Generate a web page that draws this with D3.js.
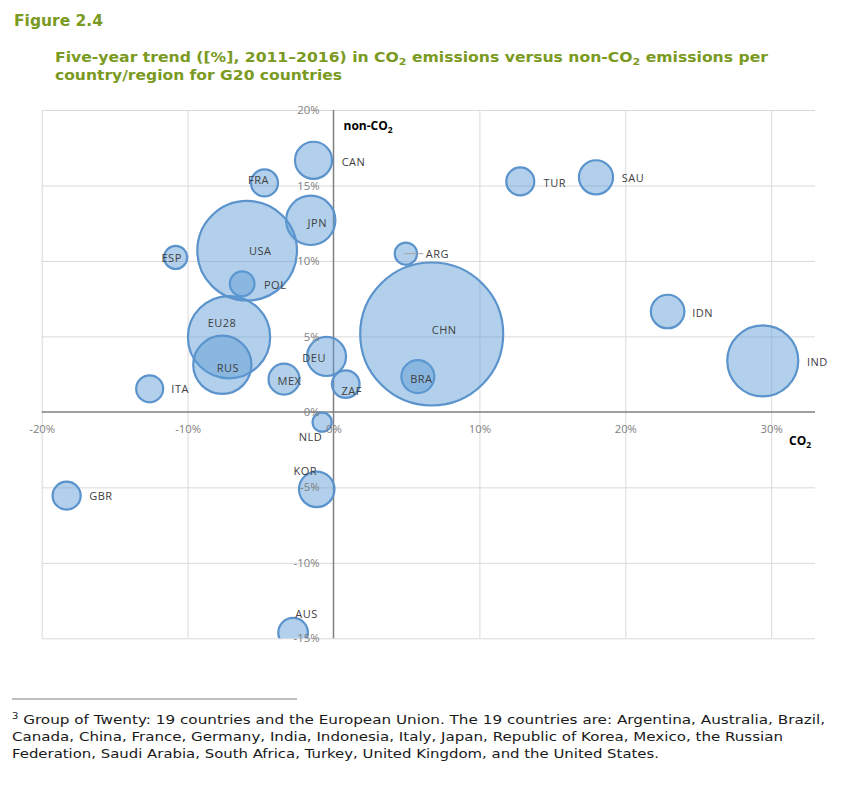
<!DOCTYPE html>
<html>
<head>
<meta charset="utf-8">
<script src="https://cdn.jsdelivr.net/npm/d3@7"></script>
<style>
  body { margin: 0; background: #ffffff; }
  svg { display: block; }
</style>
</head>
<body>
<script>
// ---------------- DATA ----------------
const countries = ["ARG","AUS","BRA","CAN","CHN","DEU","ESP","EU28","FRA","GBR","IDN","IND","ITA","JPN","KOR","MEX","NLD","POL","RUS","SAU","TUR","USA","ZAF"];
// five-year trend in CO2 emissions, %
const co2Trend    = [4.96, -2.77, 5.78, -1.37, 6.73, -0.48, -10.82, -7.16, -4.73, -18.29, 22.9, 29.42, -12.6, -1.56, -1.15, -3.39, -0.78, -6.26, -7.62, 17.99, 12.8, -5.92, 0.84];
// five-year trend in non-CO2 emissions, %
const nonCo2Trend = [10.48, -14.63, 2.34, 16.67, 5.16, 3.67, 10.23, 4.95, 15.17, -5.55, 6.65, 3.38, 1.53, 12.69, -5.13, 2.17, -0.68, 8.49, 3.12, 15.54, 15.27, 10.68, 1.84];
// bubble size (relative emission size)
const bubbleSize  = [304, 535, 663, 840, 12500, 932, 326, 4135, 446, 480, 687, 3082, 446, 1486, 770, 586, 224, 372, 2070, 712, 480, 6065, 466];

const xTicks = [-20, -10, 0, 10, 20, 30];
const yTicks = [-15, -10, -5, 0, 5, 10, 15, 20];
const xDomain = [-20, 33];
const yDomain = [-15, 20];

// label placement relative to bubble centre (layout only)
const labelOffset = {ARG:[31.5,0], AUS:[13.5,-19.4], BRA:[3.5,2.3], CAN:[40,1], CHN:[12.5,-4], DEU:[-12.4,1], ESP:[-4,0], EU28:[-7,-15], FRA:[-6,-3], GBR:[34.3,0], IDN:[35,1], IND:[54.6,0.7], ITA:[30.5,0], JPN:[6.5,2], KOR:[-11.5,-18.6], MEX:[5.5,1.4], NLD:[-11.7,14.4], POL:[33,1], RUS:[5.6,3], SAU:[37,0], TUR:[34.5,1], USA:[13,0], ZAF:[6,6]};
const leaderLines = ["ARG"];

const titleLines = [
  [["n","Five-year trend ([%], 2011\u20132016) in CO"],["sub","2"],["n"," emissions versus non-CO"],["sub","2"],["n"," emissions per"]],
  [["n","country/region for G20 countries"]]
];
const footLines = [
  [["sup","3"],["n"," Group of Twenty: 19 countries and the European Union. The 19 countries are: Argentina, Australia, Brazil,"]],
  [["n","Canada, China, France, Germany, India, Indonesia, Italy, Japan, Republic of Korea, Mexico, the Russian"]],
  [["n","Federation, Saudi Arabia, South Africa, Turkey, United Kingdom, and the United States."]]
];

// ---------------- LAYOUT ----------------
const W = 860, H = 786;
const plot = {left: 41.7, right: 815, top: 110, bottom: 638.3};
const green = "#7a9a22";

const svg = d3.select("body").append("svg").attr("width", W).attr("height", H)
  .style("font-family", "'Open Sans', sans-serif");

function richText(sel, segs, subSize) {
  let pending = 0;
  segs.forEach(([kind, t]) => {
    const ts = sel.append("tspan").text(t);
    if (kind === "sub") {
      ts.attr("dy", pending + 3).style("font-size", subSize); pending = -3;
    } else if (kind === "sup") {
      ts.attr("dy", pending - 5).style("font-size", subSize); pending = 5;
    } else {
      if (pending) ts.attr("dy", pending);
      pending = 0;
    }
  });
}

// Titles
svg.append("text").attr("x", 14).attr("y", 26)
  .style("font-family", "'DejaVu Sans', Verdana, sans-serif")
  .style("font-weight", "bold").style("font-size", "15.5px").attr("fill", green)
  .text("Figure 2.4");

const titleLen = [713, 287];
titleLines.forEach((segs, i) => {
  const t = svg.append("text").attr("x", 55).attr("y", 62 + i * 18)
    .attr("textLength", titleLen[i]).attr("lengthAdjust", "spacingAndGlyphs")
    .style("font-family", "'DejaVu Sans', Verdana, sans-serif")
    .style("font-weight", "bold").style("font-size", "13.5px").attr("fill", green);
  richText(t, segs, "9.5px");
});

// Scales
const x = d3.scaleLinear().domain(xDomain).range([plot.left, plot.right]);
const y = d3.scaleLinear().domain(yDomain).range([plot.bottom, plot.top]);
const r = d3.scaleSqrt().domain([0, d3.max(bubbleSize)]).range([0, 71.5]);

// Gridlines
const gridX = svg.append("g").attr("transform", `translate(0,${plot.bottom})`)
  .call(d3.axisBottom(x).tickValues(xTicks.filter(v => v !== 0)).tickSize(-(plot.bottom - plot.top)).tickFormat(""));
gridX.select(".domain").remove();
gridX.selectAll("line").attr("stroke", "#d9d9d9").attr("stroke-width", 1);

const gridY = svg.append("g").attr("transform", `translate(${plot.left},0)`)
  .call(d3.axisLeft(y).tickValues(yTicks.filter(v => v !== 0)).tickSize(-(plot.right - plot.left)).tickFormat(""));
gridY.select(".domain").remove();
gridY.selectAll("line").attr("stroke", "#d9d9d9").attr("stroke-width", 1);

// Zero axes
svg.append("line").attr("x1", plot.left).attr("x2", plot.right).attr("y1", y(0)).attr("y2", y(0))
  .attr("stroke", "#7f7f7f").attr("stroke-width", 1.5);
svg.append("line").attr("x1", x(0)).attr("x2", x(0)).attr("y1", plot.top).attr("y2", plot.bottom)
  .attr("stroke", "#7f7f7f").attr("stroke-width", 1.5);

// Bubbles
svg.append("clipPath").attr("id", "plotclip").append("rect")
  .attr("x", plot.left).attr("y", plot.top).attr("width", plot.right - plot.left).attr("height", plot.bottom - plot.top);

const data = countries.map((c, i) => ({c, xv: co2Trend[i], yv: nonCo2Trend[i], s: bubbleSize[i]}));
const bubbles = svg.append("g").attr("clip-path", "url(#plotclip)");
bubbles.selectAll("circle").data(data).join("circle")
  .attr("cx", d => x(d.xv)).attr("cy", d => y(d.yv)).attr("r", d => r(d.s))
  .attr("fill", "rgba(91,155,213,0.47)")
  .attr("stroke", "#5b93cc").attr("stroke-width", 2.2);

// Leader lines
data.filter(d => leaderLines.includes(d.c)).forEach(d => {
  const [dx, dy] = labelOffset[d.c];
  svg.append("line").attr("x1", x(d.xv) - 2).attr("x2", x(d.xv) + dx - 14)
    .attr("y1", y(d.yv) + dy).attr("y2", y(d.yv) + dy)
    .attr("stroke", "#a6a6a6").attr("stroke-width", 1);
});

// Tick labels (drawn over bubbles)
const axX = svg.append("g").attr("transform", `translate(0,${y(0)})`)
  .call(d3.axisBottom(x).tickValues(xTicks).tickSize(0).tickPadding(13).tickFormat(d => d + "%"));
axX.select(".domain").remove();
axX.selectAll("text").style("font-family", "'Open Sans', sans-serif").style("font-size", "11.3px").attr("fill", "#7f7f7f");

const axY = svg.append("g").attr("transform", `translate(${x(0)},0)`)
  .call(d3.axisLeft(y).tickValues(yTicks).tickSize(0).tickPadding(14).tickFormat(d => d + "%"));
axY.select(".domain").remove();
axY.selectAll("text").style("font-family", "'Open Sans', sans-serif").style("font-size", "11.3px").attr("fill", "#7f7f7f");

// Country labels
svg.append("g").selectAll("text").data(data).join("text")
  .attr("x", d => x(d.xv) + labelOffset[d.c][0])
  .attr("y", d => y(d.yv) + labelOffset[d.c][1])
  .attr("text-anchor", "middle").attr("dominant-baseline", "central")
  .style("font-size", "11px").style("letter-spacing", "0.5px").attr("fill", "#404040")
  .text(d => d.c);

// Axis titles
const at1 = svg.append("text").attr("x", x(0) + 10).attr("y", 130)
  .style("font-family", "'Open Sans', sans-serif").style("font-weight", "bold").style("font-size", "12px").attr("fill", "#000");
richText(at1, [["n","non-CO"],["sub","2"]], "8.5px");
const at2 = svg.append("text").attr("x", 789).attr("y", 445)
  .style("font-family", "'Open Sans', sans-serif").style("font-weight", "bold").style("font-size", "12px").attr("fill", "#000");
richText(at2, [["n","CO"],["sub","2"]], "8.5px");

// Footnote
svg.append("line").attr("x1", 12).attr("x2", 297).attr("y1", 699).attr("y2", 699)
  .attr("stroke", "#7f7f7f").attr("stroke-width", 1);
const footLen = [813, 771, 647];
footLines.forEach((segs, i) => {
  const t = svg.append("text").attr("x", 12).attr("y", 724 + i * 17)
    .attr("textLength", footLen[i]).attr("lengthAdjust", "spacingAndGlyphs")
    .style("font-family", "'DejaVu Sans', Verdana, sans-serif").style("font-size", "13px").attr("fill", "#1a1a1a");
  richText(t, segs, "8.5px");
});
</script>
</body>
</html>
